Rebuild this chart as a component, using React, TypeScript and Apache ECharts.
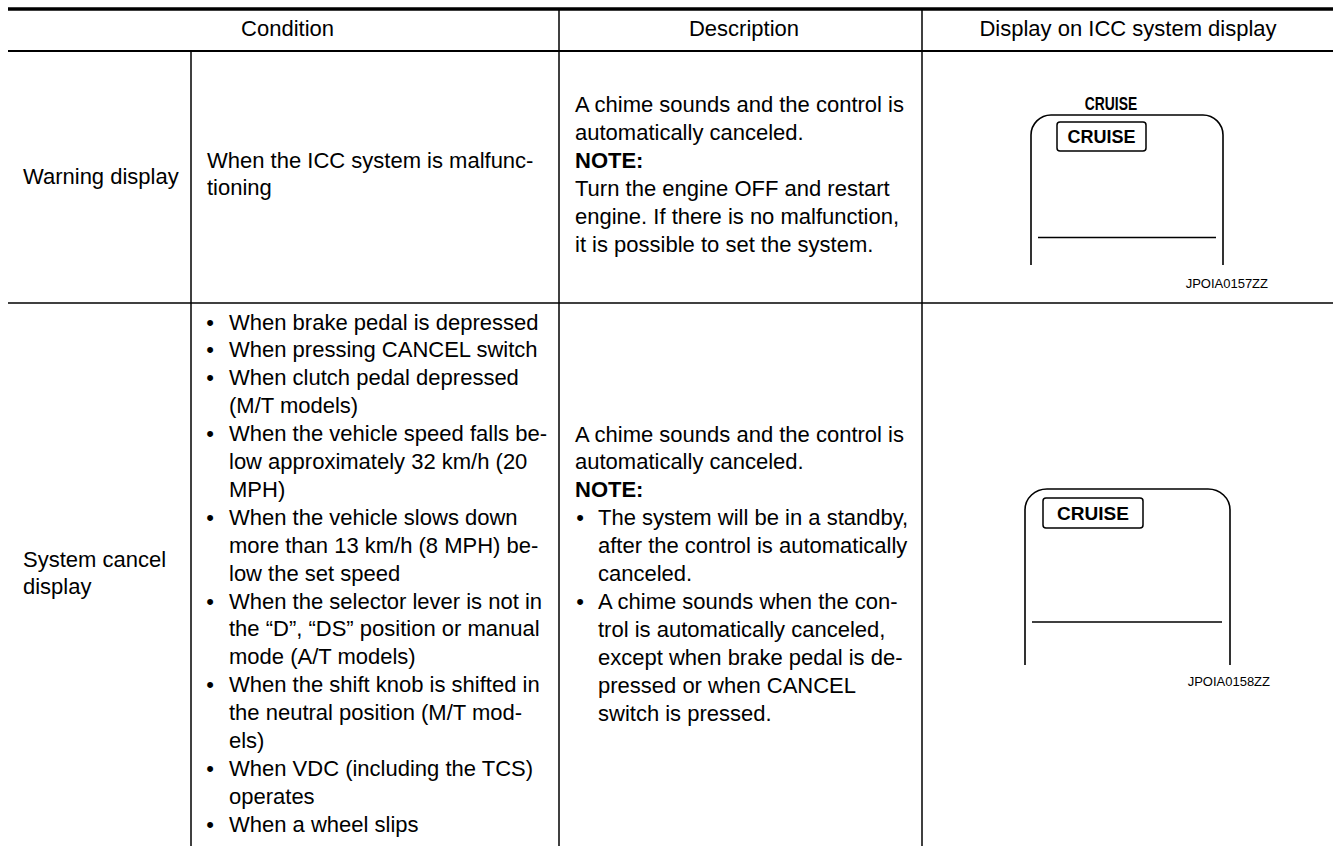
import React, { useEffect, useRef } from "react";
import * as echarts from "echarts";

// ---- content ----
const headers = ["Condition", "Description", "Display on ICC system display"];
const rowLabels = [["Warning display"], ["System cancel", "display"]];

const warningCondition = ["When the ICC system is malfunc-", "tioning"];
const warningDescription = [
  "A chime sounds and the control is",
  "automatically canceled.",
  "NOTE:",
  "Turn the engine OFF and restart",
  "engine. If there is no malfunction,",
  "it is possible to set the system.",
];

// "• " = bullet line, "  " = continuation of bullet
const cancelCondition = [
  "• When brake pedal is depressed",
  "• When pressing CANCEL switch",
  "• When clutch pedal depressed",
  "  (M/T models)",
  "• When the vehicle speed falls be-",
  "  low approximately 32 km/h (20",
  "  MPH)",
  "• When the vehicle slows down",
  "  more than 13 km/h (8 MPH) be-",
  "  low the set speed",
  "• When the selector lever is not in",
  "  the \u201CD\u201D, \u201CDS\u201D position or manual",
  "  mode (A/T models)",
  "• When the shift knob is shifted in",
  "  the neutral position (M/T mod-",
  "  els)",
  "• When VDC (including the TCS)",
  "  operates",
  "• When a wheel slips",
];
const cancelDescription = [
  "A chime sounds and the control is",
  "automatically canceled.",
  "NOTE:",
  "• The system will be in a standby,",
  "  after the control is automatically",
  "  canceled.",
  "• A chime sounds when the con-",
  "  trol is automatically canceled,",
  "  except when brake pedal is de-",
  "  pressed or when CANCEL",
  "  switch is pressed.",
];

const displayLabel = "CRUISE";
const figureCodes = ["JPOIA0157ZZ", "JPOIA0158ZZ"];

// ---- display frames (open-bottom rounded outlines) ----
echarts.graphic.registerShape(
  "frameA",
  echarts.graphic.extendPath(
    "M1031,265 L1031,135 C1031,124 1040,115 1051,115 L1203,115 C1214,115 1223,124 1223,135 L1223,265",
    {}
  )
);
echarts.graphic.registerShape(
  "frameB",
  echarts.graphic.extendPath(
    "M1025,665 L1025,510 C1025,498 1035,489 1047,489 L1208,489 C1220,489 1230,498 1230,510 L1230,665",
    {}
  )
);

const FONT = '"Liberation Sans", Arial, Helvetica, sans-serif';
const LH = 27.9;

function txt(text: string, x: number, y: number, opts: any = {}) {
  return {
    type: "text",
    x,
    y,
    scaleX: opts.scaleX || 1,
    silent: true,
    style: {
      text,
      fill: "#000",
      fontFamily: opts.family || FONT,
      fontSize: opts.size || 22,
      fontWeight: opts.bold ? "bold" : "normal",
      textAlign: opts.align || "left",
      textVerticalAlign: "middle",
    },
  };
}

function line(x1: number, y1: number, x2: number, y2: number, w: number) {
  return {
    type: "line",
    silent: true,
    shape: { x1, y1, x2, y2 },
    style: { stroke: "#000", lineWidth: w },
  };
}

function block(lines: string[], x: number, y0: number, bulletX: number, textX: number) {
  const els: any[] = [];
  lines.forEach((l, i) => {
    const y = y0 + i * LH;
    if (l.startsWith("• ")) {
      els.push(txt("\u2022", bulletX, y, { align: "center" }));
      els.push(txt(l.slice(2), textX, y));
    } else if (l.startsWith("  ")) {
      els.push(txt(l.slice(2), textX, y));
    } else {
      els.push(txt(l, x, y, { bold: l === "NOTE:" }));
    }
  });
  return els;
}

export default function App() {
  const ref = useRef<HTMLDivElement>(null);
  useEffect(() => {
    document.body.style.margin = "0";
    const chart = echarts.init(ref.current!, null, { renderer: "svg" });
    const els: any[] = [];

    // rules
    els.push(line(8, 9, 1333, 9, 3.5));
    els.push(line(8, 51, 1333, 51, 2));
    els.push(line(8, 303, 1333, 303, 1.5));
    els.push(line(191, 52, 191, 846, 1.5));
    els.push(line(559, 10, 559, 846, 1.5));
    els.push(line(922, 10, 922, 846, 1.5));

    // header
    els.push(txt(headers[0], 287.5, 28, { align: "center" }));
    els.push(txt(headers[1], 744, 28, { align: "center" }));
    els.push(txt(headers[2], 1128, 28, { align: "center" }));

    // row labels
    els.push(txt(rowLabels[0][0], 23, 176));
    rowLabels[1].forEach((l, i) => els.push(txt(l, 23, 559 + i * LH)));

    // row 1
    els.push(...block(warningCondition, 207, 160, 210, 229));
    els.push(...block(warningDescription, 575, 104.5, 580, 598));

    // row 2
    els.push(...block(cancelCondition, 207, 322, 210, 229));
    els.push(...block(cancelDescription, 575, 434, 580, 598));

    // display 1
    els.push(txt(displayLabel, 1111, 103, { bold: true, size: 18, align: "center", scaleX: 0.77 }));
    els.push({ type: "frameA", silent: true, style: { fill: "none", stroke: "#000", lineWidth: 1.6 } });
    els.push({
      type: "rect",
      silent: true,
      shape: { x: 1057, y: 122, width: 89, height: 29, r: 3 },
      style: { fill: "none", stroke: "#000", lineWidth: 1.5 },
    });
    els.push(txt(displayLabel, 1101.5, 137, { bold: true, size: 18, align: "center" }));
    els.push(line(1038, 237.5, 1216, 237.5, 1.6));
    els.push(txt(figureCodes[0], 1268, 283, { size: 13, align: "right" }));

    // display 2
    els.push({ type: "frameB", silent: true, style: { fill: "none", stroke: "#000", lineWidth: 1.6 } });
    els.push({
      type: "rect",
      silent: true,
      shape: { x: 1043, y: 498, width: 100, height: 30, r: 3 },
      style: { fill: "none", stroke: "#000", lineWidth: 1.5 },
    });
    els.push(txt(displayLabel, 1093, 513, { bold: true, size: 19, align: "center" }));
    els.push(line(1032, 622, 1222, 622, 1.6));
    els.push(txt(figureCodes[1], 1270, 681, { size: 13, align: "right" }));

    chart.setOption({
      animation: false,
      backgroundColor: "#fff",
      graphic: { elements: els },
    });
    return () => chart.dispose();
  }, []);
  return (
    <div
      ref={ref}
      style={{ position: "fixed", left: 0, top: 0, width: 1333, height: 846, background: "#fff" }}
    />
  );
}
